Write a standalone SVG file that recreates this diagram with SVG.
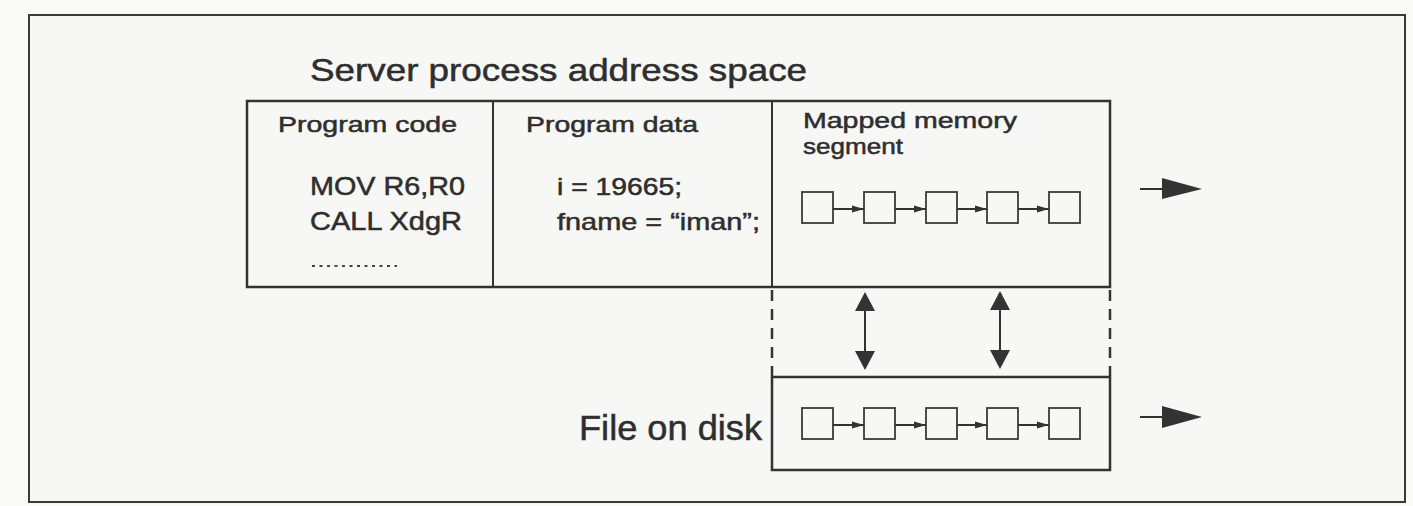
<svg xmlns="http://www.w3.org/2000/svg" width="1413" height="506" viewBox="0 0 1413 506">
<defs>
<style>
.t{font-family:"Liberation Sans",Arial,sans-serif;fill:#2e2e2e;stroke:#2e2e2e;stroke-width:0.5}
.box{fill:none;stroke:#333;stroke-width:2.5}
.cell{fill:none;stroke:#3a3a3a;stroke-width:1.8}
.ln{stroke:#333;stroke-width:2;fill:none}
.dash{stroke:#333;stroke-width:2.5;stroke-dasharray:11 8;fill:none}
</style>
<marker id="sm" viewBox="0 0 12 10" refX="12" refY="5" markerWidth="12" markerHeight="10" markerUnits="userSpaceOnUse" orient="auto">
<path d="M0,1.5 L12,5 L0,8.5 Z" fill="#333"/>
</marker>
</defs>
<rect x="0" y="0" width="1413" height="506" fill="#f9f9f7"/>
<rect x="29" y="15" width="1376" height="487" fill="#f7f7f5" stroke="#3a3a3a" stroke-width="2"/>

<g id="title">
<text class="t" x="310" y="81" font-size="32" textLength="497" lengthAdjust="spacingAndGlyphs">Server process address space</text>
</g>

<g id="address-space">
<rect class="box" x="247" y="101" width="863" height="186"/>
<line class="ln" x1="493" y1="101" x2="493" y2="287" stroke-width="2.5"/>
<line class="ln" x1="772" y1="101" x2="772" y2="287" stroke-width="2.5"/>
</g>

<g id="program-code">
<text class="t" x="278" y="132" font-size="22" textLength="179" lengthAdjust="spacingAndGlyphs">Program code</text>
<text class="t" x="310" y="195" font-size="25" textLength="155" lengthAdjust="spacingAndGlyphs">MOV R6,R0</text>
<text class="t" x="310" y="230" font-size="25" textLength="152" lengthAdjust="spacingAndGlyphs">CALL XdgR</text>
<line x1="312" y1="266" x2="397" y2="266" stroke="#444" stroke-width="2" stroke-dasharray="3 4.5"/>
</g>

<g id="program-data">
<text class="t" x="526" y="132" font-size="22" textLength="172" lengthAdjust="spacingAndGlyphs">Program data</text>
<text class="t" x="557" y="195" font-size="24" textLength="125" lengthAdjust="spacingAndGlyphs">i = 19665;</text>
<text class="t" x="557" y="230" font-size="24" textLength="203" lengthAdjust="spacingAndGlyphs">fname = “iman”;</text>
</g>

<g id="mapped-memory">
<text class="t" x="803" y="128" font-size="22" textLength="214" lengthAdjust="spacingAndGlyphs">Mapped memory</text>
<text class="t" x="803" y="154" font-size="22" textLength="100" lengthAdjust="spacingAndGlyphs">segment</text>
<rect class="cell" x="802" y="192" width="31" height="31"/>
<rect class="cell" x="864" y="192" width="31" height="31"/>
<rect class="cell" x="926" y="192" width="31" height="31"/>
<rect class="cell" x="987" y="192" width="31" height="31"/>
<rect class="cell" x="1049" y="192" width="31" height="31"/>
</g>

<g id="file-on-disk">
<text class="t" x="579" y="440" font-size="35" textLength="183" lengthAdjust="spacingAndGlyphs">File on disk</text>
<rect class="box" x="772" y="377" width="338" height="93"/>
<rect class="cell" x="802" y="408" width="31" height="31"/>
<rect class="cell" x="864" y="408" width="31" height="31"/>
<rect class="cell" x="926" y="408" width="31" height="31"/>
<rect class="cell" x="987" y="408" width="31" height="31"/>
<rect class="cell" x="1049" y="408" width="31" height="31"/>
</g>

<g id="connectors">
<line class="dash" x1="772" y1="290" x2="772" y2="376"/>
<line class="dash" x1="1110" y1="290" x2="1110" y2="376"/>
<line class="ln" x1="833" y1="209" x2="864" y2="209" marker-end="url(#sm)"/>
<line class="ln" x1="895" y1="209" x2="926" y2="209" marker-end="url(#sm)"/>
<line class="ln" x1="957" y1="209" x2="987" y2="209" marker-end="url(#sm)"/>
<line class="ln" x1="1018" y1="209" x2="1049" y2="209" marker-end="url(#sm)"/>
<line class="ln" x1="833" y1="425" x2="864" y2="425" marker-end="url(#sm)"/>
<line class="ln" x1="895" y1="425" x2="926" y2="425" marker-end="url(#sm)"/>
<line class="ln" x1="957" y1="425" x2="987" y2="425" marker-end="url(#sm)"/>
<line class="ln" x1="1018" y1="425" x2="1049" y2="425" marker-end="url(#sm)"/>
<line class="ln" x1="865" y1="305" x2="865" y2="357" stroke-width="3"/>
<path d="M865,292 L875,311 L855,311 Z M865,370 L875,351 L855,351 Z" fill="#333"/>
<line class="ln" x1="1000" y1="305" x2="1000" y2="357" stroke-width="3"/>
<path d="M1000,291 L1010,310 L990,310 Z M1000,369 L1010,350 L990,350 Z" fill="#333"/>
<line class="ln" x1="1140" y1="189" x2="1165" y2="189" stroke-width="3"/>
<path d="M1162,178 L1202,189 L1162,199 Z" fill="#333"/>
<line class="ln" x1="1140" y1="417" x2="1165" y2="417" stroke-width="3"/>
<path d="M1162,406 L1202,417 L1162,428 Z" fill="#333"/>
</g>
</svg>
